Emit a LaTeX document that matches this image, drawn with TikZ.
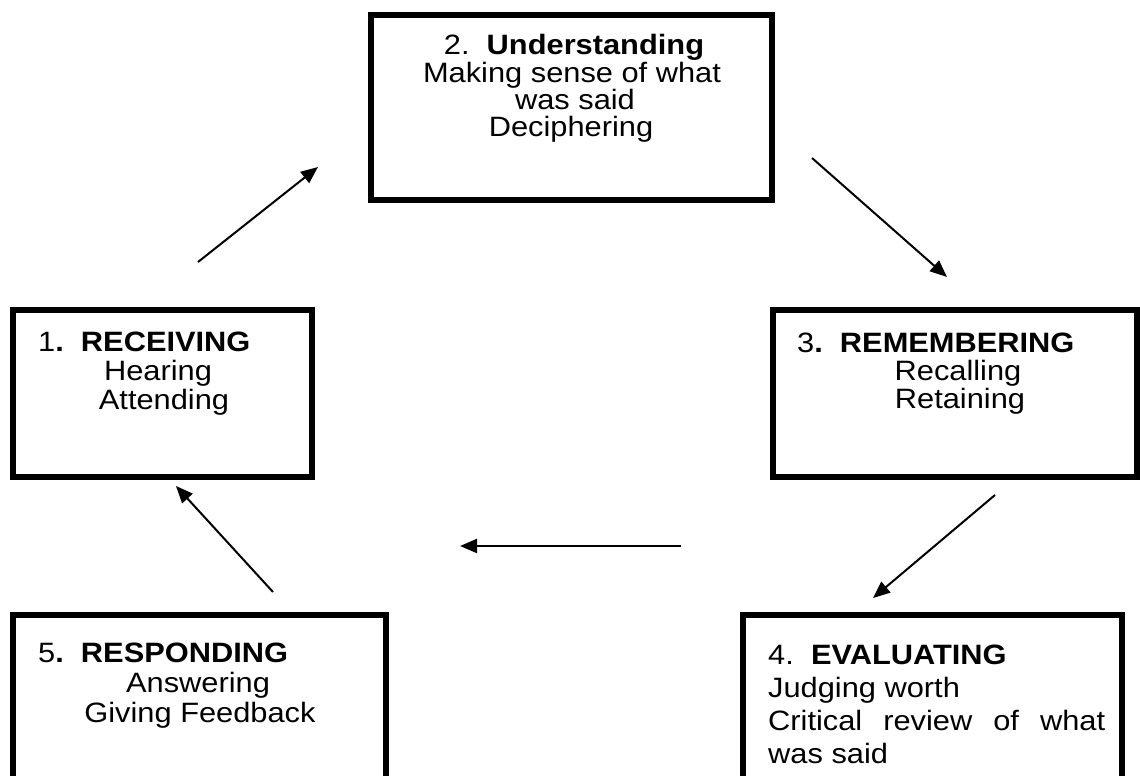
\documentclass[tikz,border=0pt]{standalone}
\usepackage{fontspec}
\setmainfont{Liberation Sans}
\newfontfamily\dfont[FakeStretch=1.1]{Liberation Sans}
\usetikzlibrary{arrows.meta}
\begin{document}
\begin{tikzpicture}[x=1pt,y=-1pt,
  stagebox/.style={draw=black,line width=6pt,fill=none,inner sep=0pt},
  txt/.style={font=\dfont\fontsize{28}{28}\selectfont,inner sep=0pt,anchor=base},
  txtl/.style={txt,anchor=base west},
  flow/.style={draw=black,line width=2pt,-{Triangle[length=17pt,width=14pt]}}]
\useasboundingbox[fill=white] (0,0) rectangle (1140,776);
% boxes
\draw[stagebox] (371,15) rectangle (772,200);
\draw[stagebox] (13,310) rectangle (312,477);
\draw[stagebox] (773,310) rectangle (1137,477);
\draw[stagebox] (13,615) rectangle (386,820);
\draw[stagebox] (743,615) rectangle (1122,820);
% texts
\node[txt] (t2a) at (574,55) {2.\ \ \textbf{Understanding}};
\node[txt] (t2b) at (572,82) {Making sense of what};
\node[txt] (t2c) at (575,109) {was said};
\node[txt] (t2d) at (571,136) {Deciphering};
\node[txtl] (t1a) at (38,351) {1\textbf{.}\ \ \textbf{RECEIVING}};
\node[txt] (t1b) at (158,380) {Hearing};
\node[txt] (t1c) at (164,409) {Attending};
\node[txtl] (t3a) at (797,352) {3\textbf{.}\ \ \textbf{REMEMBERING}};
\node[txt] (t3b) at (958,380) {Recalling};
\node[txt] (t3c) at (960,408) {Retaining};
\node[txtl] (t5a) at (38,662) {5\textbf{.}\ \ \textbf{RESPONDING}};
\node[txt] (t5b) at (198,692) {Answering};
\node[txt] (t5c) at (200,722) {Giving Feedback};
\node[txtl] (t4a) at (768,664) {4.\ \ \textbf{EVALUATING}};
\node[txtl] (t4b) at (768,697) {Judging worth};
\node[txtl] (t4c) at (768,730) {\makebox[337pt][s]{Critical review of what}};
\node[txtl] (t4d) at (768,763) {was said};
% arrows
\coordinate (a1s) at (198,262);
\coordinate (a1e) at (318,167);
\coordinate (a2s) at (812,158);
\coordinate (a2e) at (947,277);
\coordinate (a3s) at (995,495);
\coordinate (a3e) at (873,598);
\coordinate (a4s) at (681,546);
\coordinate (a4e) at (460,546);
\coordinate (a5s) at (273,592);
\coordinate (a5e) at (176,486);
\draw[flow] (a1s) -- (a1e);
\draw[flow] (a2s) -- (a2e);
\draw[flow] (a3s) -- (a3e);
\draw[flow] (a4s) -- (a4e);
\draw[flow] (a5s) -- (a5e);
\end{tikzpicture}
\end{document}
